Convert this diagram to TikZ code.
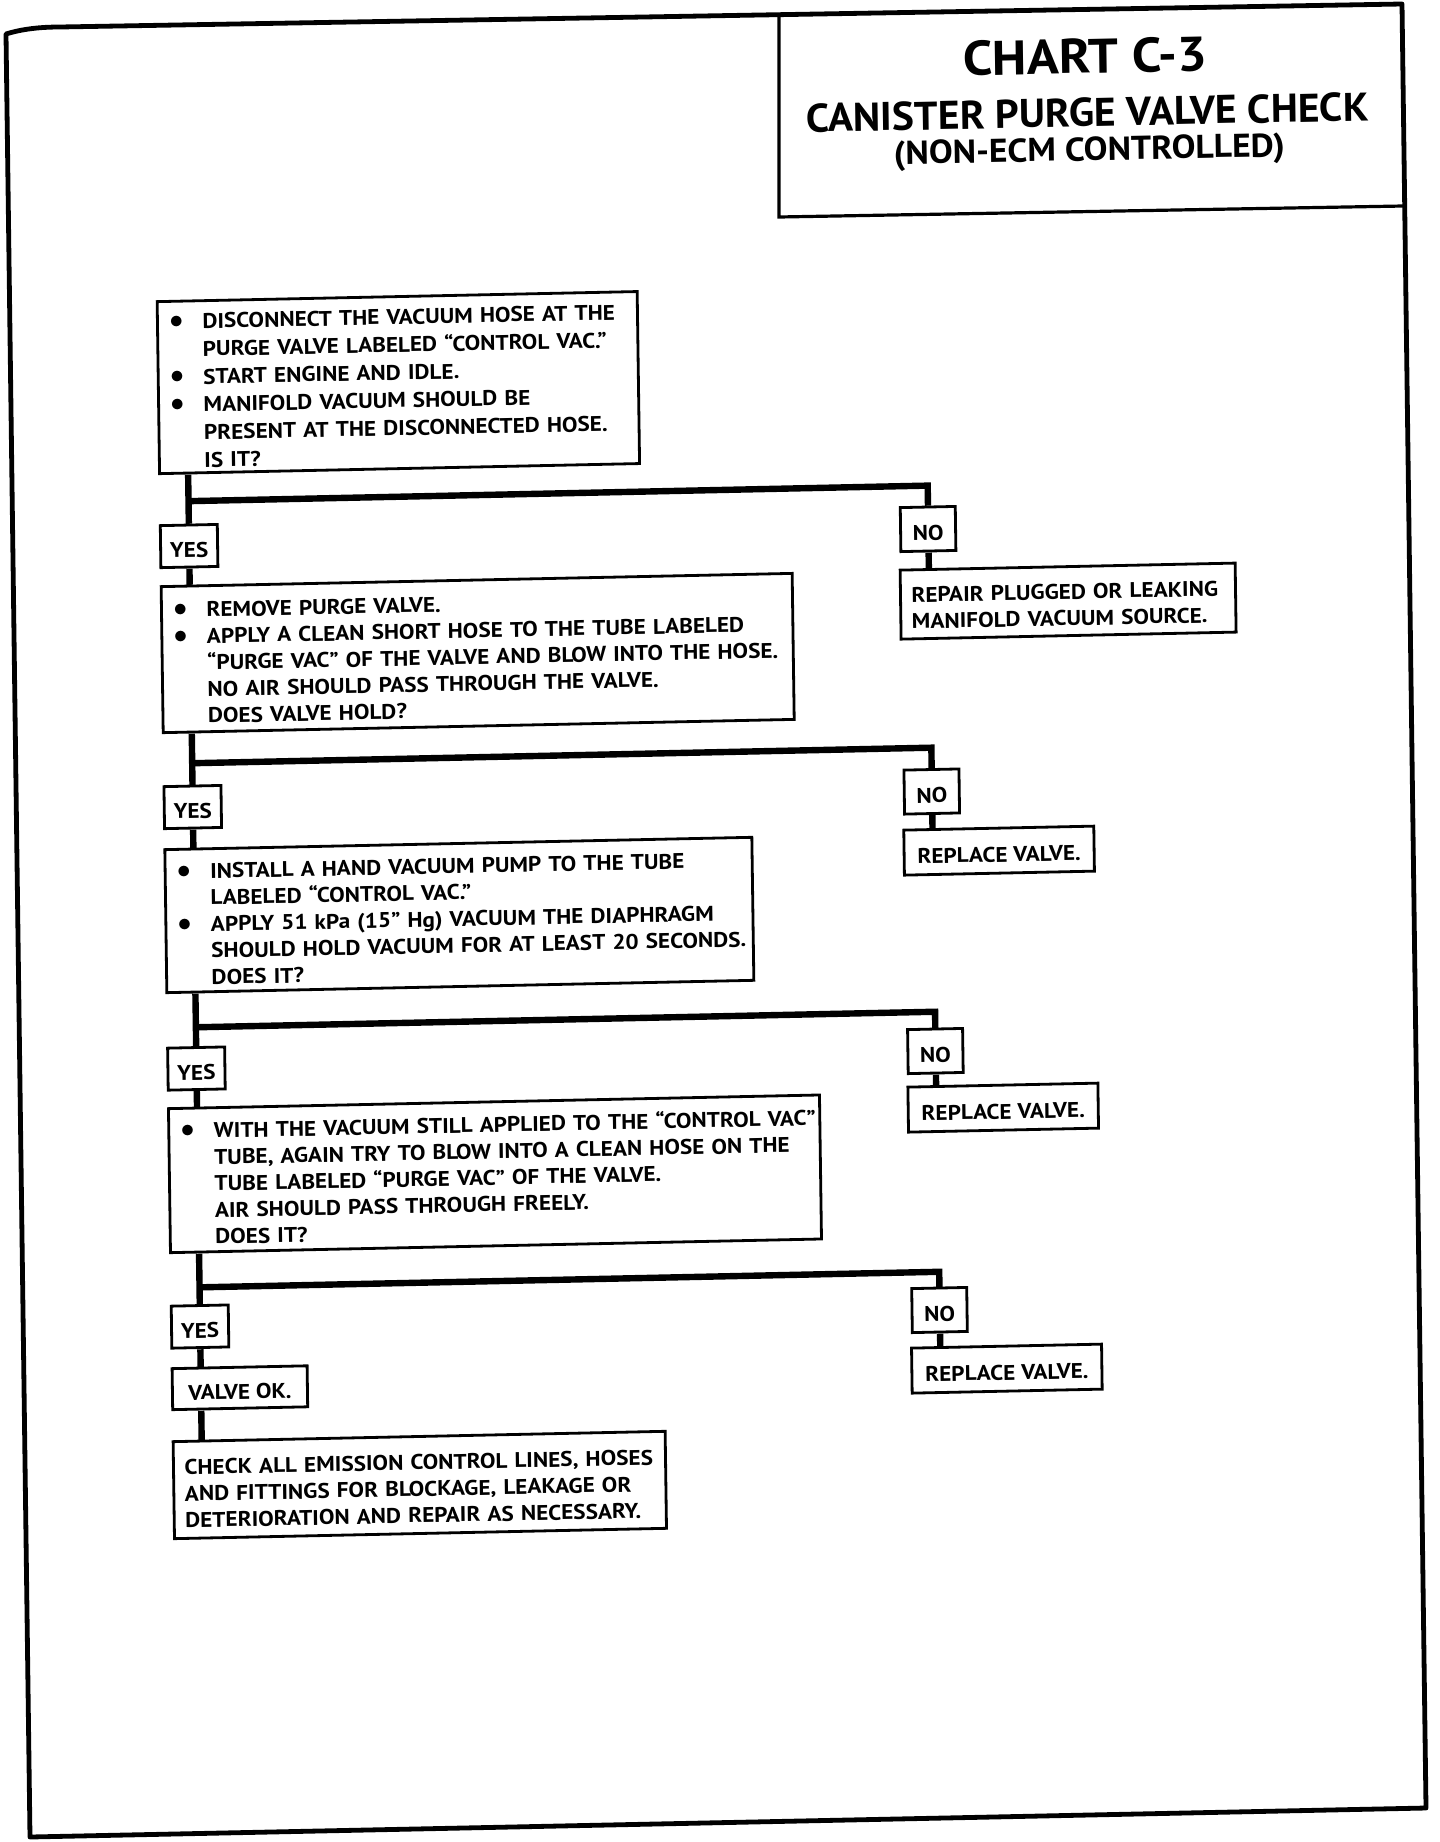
\documentclass[tikz,border=0pt]{standalone}
\usepackage{fontspec}
\usepackage{graphicx}
\newfontfamily\bodyfont{PT Sans}[FakeStretch=1.095]
\newfontfamily\titleA{PT Sans}[FakeStretch=1.09]
\newfontfamily\titleB{PT Sans}[FakeStretch=1.04]
\newfontfamily\titleC{PT Sans}[FakeStretch=1.08]
\newcommand\mybul{\makebox[16.5pt][l]{\raisebox{0.4pt}{\scalebox{1.25}{$\bullet$}}}}
\newcommand\myind{\hspace*{16.5pt}}
\newcommand\lowr{\rule{0pt}{11.4pt}}
\newcommand\tline[1]{\mbox{#1}}
\begin{document}
\begin{tikzpicture}[x=0.5pt,y=-0.5pt,
  bodytext/.style={font=\bodyfont\bfseries\fontsize{10.6pt}{13.25pt}\selectfont},
  mainbox/.style={bodytext, draw, line width=1.4pt, inner xsep=6pt, inner ysep=0pt, align=left},
  leftbox/.style={bodytext, draw, line width=1.4pt, inner xsep=5.5pt, inner ysep=0pt, align=left},
  smallbox/.style={bodytext, draw, line width=1.4pt, inner sep=0pt, align=center, text height=11.4pt, text depth=0pt},
  conn/.style={line width=3.2pt},
  frame/.style={line width=2.4pt, line join=round},
  titlebox/.style={line width=1.6pt},
  ttl/.style={anchor=base, inner sep=0pt}]
\fill[white] (0,0) rectangle (1440,1842);
\useasboundingbox (0,0) rectangle (1440,1842);
% page frame and title box
\draw[frame] (6,34) .. controls (22,29) and (40,27) .. (60,27) -- (1402,4) -- (1426,1808) -- (30,1837) -- cycle;
\draw[titlebox] (779,15) -- (779,217) -- (1403,206);
\begin{scope}[cm={1,0.021,-0.014,1,(-6.45pt,-7.56pt)}, transform shape]
% title
\node[ttl, font=\titleA\bfseries\fontsize{24.3pt}{28pt}\selectfont] (t1) at (1097,81) {CHART C-3};
\node[ttl, font=\titleB\bfseries\fontsize{20pt}{24pt}\selectfont] (t2) at (1099,134.5) {CANISTER PURGE VALVE CHECK};
\node[ttl, font=\titleC\bfseries\fontsize{16.5pt}{20pt}\selectfont] (t3) at (1100,168.5) {(NON-ECM CONTROLLED)};
% main column
\node[mainbox, font=\bodyfont\bfseries\fontsize{10.6pt}{13.9pt}\selectfont, minimum width=240pt, minimum height=86pt, text width=228pt] (b1) at (406,376) {%
\tline{\lowr\mybul DISCONNECT THE VACUUM HOSE AT THE}\\
\tline{\myind PURGE VALVE LABELED “CONTROL VAC.”}\\
\tline{\mybul START ENGINE AND IDLE.}\\
\tline{\mybul MANIFOLD VACUUM SHOULD BE}\\
\tline{\myind PRESENT AT THE DISCONNECTED HOSE.}\\
\tline{\myind IS IT?}};
\node[smallbox, minimum width=28.5pt, minimum height=21pt] (y1) at (194.5,535) {YES};
\node[mainbox, minimum width=315.5pt, minimum height=73pt, text width=303.5pt] (b2) at (481.5,648) {%
\tline{\lowr\mybul REMOVE PURGE VALVE.}\\
\tline{\mybul APPLY A CLEAN SHORT HOSE TO THE TUBE LABELED}\\
\tline{\myind “PURGE VAC” OF THE VALVE AND BLOW INTO THE HOSE.}\\
\tline{\myind NO AIR SHOULD PASS THROUGH THE VALVE.}\\
\tline{\myind DOES VALVE HOLD?}};
\node[smallbox, minimum width=28.5pt, minimum height=21pt] (y2) at (194.5,796) {YES};
\node[mainbox, minimum width=293.5pt, minimum height=71.5pt, text width=281.5pt] (b3) at (459.5,909.5) {%
\tline{\lowr\mybul INSTALL A HAND VACUUM PUMP TO THE TUBE}\\
\tline{\myind LABELED “CONTROL VAC.”}\\
\tline{\mybul APPLY 51 kPa (15” Hg) VACUUM THE DIAPHRAGM}\\
\tline{\myind SHOULD HOLD VACUUM FOR AT LEAST 20 SECONDS.}\\
\tline{\myind DOES IT?}};
\node[smallbox, minimum width=28.5pt, minimum height=21pt] (y3) at (194.5,1057.5) {YES};
\node[mainbox, minimum width=325.5pt, minimum height=72pt, text width=313.5pt] (b4) at (491.5,1169) {%
\tline{\lowr\mybul WITH THE VACUUM STILL APPLIED TO THE “CONTROL VAC”}\\
\tline{\myind TUBE, AGAIN TRY TO BLOW INTO A CLEAN HOSE ON THE}\\
\tline{\myind TUBE LABELED “PURGE VAC” OF THE VALVE.}\\
\tline{\myind AIR SHOULD PASS THROUGH FREELY.}\\
\tline{\myind DOES IT?}};
\node[smallbox, minimum width=28.5pt, minimum height=21pt] (y4) at (194.5,1315.5) {YES};
\node[smallbox, minimum width=67.5pt, minimum height=20.5pt] (ok) at (233.5,1377.5) {VALVE OK.};
\node[leftbox, minimum width=246pt, minimum height=48.5pt, text width=235pt] (fin) at (412,1478.5) {%
\tline{\lowr CHECK ALL EMISSION CONTROL LINES, HOSES}\\
\tline{AND FITTINGS FOR BLOCKAGE, LEAKAGE OR}\\
\tline{DETERIORATION AND REPAIR AS NECESSARY.}};
% right column
\node[smallbox, minimum width=27.5pt, minimum height=22pt] (n1) at (933.5,533.5) {NO};
\node[leftbox, minimum width=167.5pt, minimum height=34.5pt, text width=156.5pt] (r1) at (1072.5,608.5) {%
\tline{\lowr REPAIR PLUGGED OR LEAKING}\\
\tline{MANIFOLD VACUUM SOURCE.}};
\node[smallbox, minimum width=27.5pt, minimum height=22pt] (n2) at (933.5,796) {NO};
\node[smallbox, minimum width=95pt, minimum height=22.5pt] (r2) at (1000,856.5) {REPLACE VALVE.};
\node[smallbox, minimum width=27.5pt, minimum height=22pt] (n3) at (933.5,1055.5) {NO};
\node[smallbox, minimum width=95pt, minimum height=22.5pt] (r3) at (1000.5,1113.5) {REPLACE VALVE.};
\node[smallbox, minimum width=27.5pt, minimum height=22pt] (n4) at (934,1314.5) {NO};
\node[smallbox, minimum width=95pt, minimum height=22.5pt] (r4) at (1000.5,1374.5) {REPLACE VALVE.};
% junction coordinates
\coordinate (j1) at (194.5,490);  \coordinate (k1) at (933.5,490);
\coordinate (j2) at (194.5,752);  \coordinate (k2) at (933.5,752);
\coordinate (j3) at (194.5,1016); \coordinate (k3) at (933.5,1016);
\coordinate (j4) at (194.5,1276); \coordinate (k4) at (934,1276);
% trunk
\draw[conn] (b1.south west -| y1.north) -- (y1.north);
\draw[conn] (y1.south) -- (b2.north west -| y1.south);
\draw[conn] (b2.south west -| y2.north) -- (y2.north);
\draw[conn] (y2.south) -- (b3.north west -| y2.south);
\draw[conn] (b3.south west -| y3.north) -- (y3.north);
\draw[conn] (y3.south) -- (b4.north west -| y3.south);
\draw[conn] (b4.south west -| y4.north) -- (y4.north);
\draw[conn] (y4.south) -- (ok.north west -| y4.south);
\draw[conn] (ok.south west -| y4.south) -- (fin.north west -| y4.south);
% NO branches
\draw[conn] (j1) -- (k1) -- (n1.north);
\draw[conn] (j2) -- (k2) -- (n2.north);
\draw[conn] (j3) -- (k3) -- (n3.north);
\draw[conn] (j4) -- (k4) -- (n4.north);
\draw[conn] (n1.south) -- (r1.north west -| n1.south);
\draw[conn] (n2.south) -- (r2.north west -| n2.south);
\draw[conn] (n3.south) -- (r3.north west -| n3.south);
\draw[conn] (n4.south) -- (r4.north west -| n4.south);
\end{scope}
\end{tikzpicture}
\end{document}
